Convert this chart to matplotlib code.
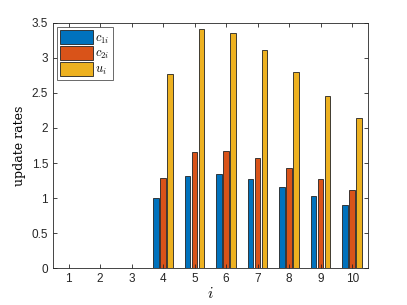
import numpy as np
import matplotlib.pyplot as plt

plt.rcParams['font.family'] = 'Liberation Sans'
plt.rcParams['mathtext.fontset'] = 'cm'

# data
idx = np.arange(1, 11)
c1 = [0, 0, 0, 1.00, 1.31, 1.34, 1.27, 1.16, 1.03, 0.90]
c2 = [0, 0, 0, 1.29, 1.66, 1.67, 1.57, 1.43, 1.27, 1.11]
u = [0, 0, 0, 2.77, 3.41, 3.35, 3.11, 2.80, 2.46, 2.14]
labels = [r'$c_{1i}$', r'$c_{2i}$', r'$u_i$']
colours = ['#0072BD', '#D95319', '#EDB120']

fig = plt.figure(figsize=(4.07, 3.05), dpi=100)
ax = fig.add_axes([0.130, 0.121, 0.774, 0.804])

step = 0.667 / 3
width = 0.8 * step
for k, (vals, col, lab) in enumerate(zip([c1, c2, u], colours, labels)):
    ax.bar(idx + (k - 1) * step, vals, width=width, color=col,
           edgecolor='#222222', linewidth=0.6, label=lab)

ax.set_xlim(0.5, 10.5)
ax.set_ylim(0, 3.5)
ax.set_xticks(idx)
ax.set_yticks(np.arange(0, 3.51, 0.5))
ax.set_yticklabels(['0', '0.5', '1', '1.5', '2', '2.5', '3', '3.5'])

for s in ax.spines.values():
    s.set_color('#262626')
    s.set_linewidth(0.6)
ax.tick_params(direction='in', top=True, right=True, length=3, width=0.6,
               colors='#262626', labelsize=8.5)

ax.set_xlabel(r'$i$', fontsize=11, labelpad=1)
ax.set_ylabel('update rates', family='DejaVu Serif', fontsize=9)

leg = ax.legend(loc='upper left', fontsize=9, fancybox=False,
                edgecolor='#262626', handlelength=2.6, handleheight=1.3,
                borderaxespad=0.35, labelspacing=0.05, handletextpad=0.2,
                borderpad=0.25)
leg.get_frame().set_linewidth(0.6)

plt.savefig('out.png', dpi=100)
